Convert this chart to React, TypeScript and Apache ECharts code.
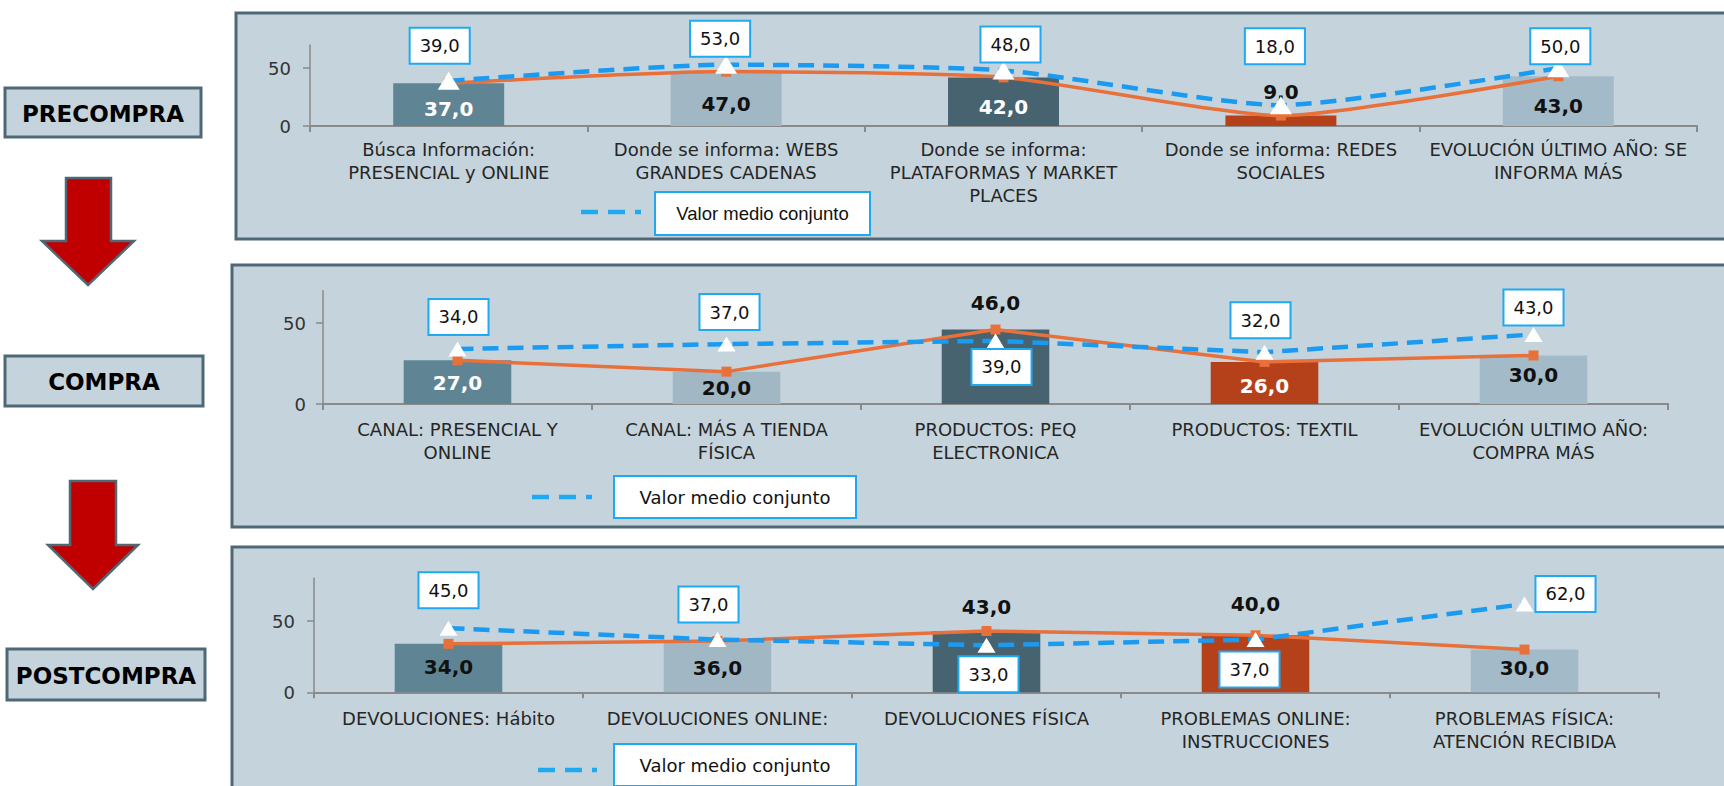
import React, { useEffect, useRef } from 'react';
import * as echarts from 'echarts';

// ---------- DATA ----------
const cats1 = [
  'Búsca Información:\nPRESENCIAL y ONLINE',
  'Donde se informa: WEBS\nGRANDES CADENAS',
  'Donde se informa:\nPLATAFORMAS Y MARKET\nPLACES',
  'Donde se informa: REDES\nSOCIALES',
  'EVOLUCIÓN ÚLTIMO AÑO: SE\nINFORMA MÁS',
];
const vals1 = [37, 47, 42, 9, 43];
const avg1 = [39, 53, 48, 18, 50];

const cats2 = [
  'CANAL: PRESENCIAL Y\nONLINE',
  'CANAL: MÁS A TIENDA\nFÍSICA',
  'PRODUCTOS: PEQ\nELECTRONICA',
  'PRODUCTOS: TEXTIL',
  'EVOLUCIÓN ULTIMO AÑO:\nCOMPRA MÁS',
];
const vals2 = [27, 20, 46, 26, 30];
const avg2 = [34, 37, 39, 32, 43];

const cats3 = [
  'DEVOLUCIONES: Hábito',
  'DEVOLUCIONES ONLINE:',
  'DEVOLUCIONES FÍSICA',
  'PROBLEMAS ONLINE:\nINSTRUCCIONES',
  'PROBLEMAS FÍSICA:\nATENCIÓN RECIBIDA',
];
const vals3 = [34, 36, 43, 40, 30];
const avg3 = [45, 37, 33, 37, 62];

const yTickValues = [0, 50];
const stageNames = ['PRECOMPRA', 'COMPRA', 'POSTCOMPRA'];
const legendName = 'Valor medio conjunto';

// ---------- STYLE ----------
const barColors = ['#5f8595', '#a1b7c3', '#47636f', '#b5411a', '#a3bac8'];
const ORANGE = '#e8703a';
const BLUE = '#1a9af0';
const BOX_BLUE = '#1eaaf1';
const PANEL_FILL = '#c5d4dc';
const PANEL_STROKE = '#4f6875';
const AXIS_GREY = '#8a8a8a';
const FONT = '"DejaVu Sans", sans-serif';

type BL = { pos: string; color: string; dy?: number; dist?: number };
const barLabels1: BL[] = [
  { pos: 'inside', color: '#fff', dy: 4 },
  { pos: 'inside', color: '#111', dy: 5 },
  { pos: 'inside', color: '#fff', dy: 5 },
  { pos: 'top', color: '#111', dist: 14 },
  { pos: 'inside', color: '#111', dy: 5 },
];
const barLabels2: BL[] = [
  { pos: 'inside', color: '#fff', dy: 1 },
  { pos: 'inside', color: '#111', dy: 0 },
  { pos: 'top', color: '#111', dist: 17 },
  { pos: 'inside', color: '#fff', dy: 3 },
  { pos: 'inside', color: '#111', dy: -5 },
];
const barLabels3: BL[] = [
  { pos: 'inside', color: '#111', dy: -1 },
  { pos: 'inside', color: '#111', dy: 1 },
  { pos: 'top', color: '#111', dist: 14 },
  { pos: 'top', color: '#111', dist: 21 },
  { pos: 'inside', color: '#111', dy: -3 },
];
const avgOffsets1 = [[-9, -35], [-6, -26], [7, -26], [-6, -59], [2, -22]];
const avgOffsets2 = [[1, -32], [3, -32], [6, 26], [-4, -32], [0, -27]];
const avgOffsets3 = [[0, -38], [-9, -35], [2, 29], [-6, 30], [41, -10]];

const fmt = (p: any) => Number(p.value).toFixed(1).replace('.', ',');

function buildChart(
  idx: number,
  cats: string[],
  vals: number[],
  avg: number[],
  max: number,
  grid: { left: number; top: number; width: number; height: number },
  barLabels: BL[],
  avgOffsets: number[][],
  labelMargin: number,
  yLabelMargin: number,
  smooth: number | boolean,
  triSize: number[]
) {
  const xAxis = {
    type: 'category',
    gridIndex: idx,
    data: cats,
    axisLine: { lineStyle: { color: AXIS_GREY, width: 2 } },
    axisTick: { show: true, length: 6, lineStyle: { color: AXIS_GREY, width: 2 } },
    axisLabel: {
      interval: 0,
      fontFamily: FONT,
      fontSize: 18,
      color: '#262626',
      lineHeight: 23,
      margin: labelMargin,
    },
  };
  const yAxis = {
    type: 'value',
    gridIndex: idx,
    min: 0,
    max,
    interval: 50,
    axisLine: { show: true, lineStyle: { color: AXIS_GREY, width: 1.5 } },
    axisTick: { show: true, length: 7, customValues: yTickValues, lineStyle: { color: AXIS_GREY, width: 1.5 } },
    axisLabel: { customValues: yTickValues, margin: yLabelMargin, fontFamily: FONT, fontSize: 18, color: '#333' },
    splitLine: { show: false },
  };
  const series = [
    {
      type: 'bar',
      name: 'bar' + idx,
      xAxisIndex: idx,
      yAxisIndex: idx,
      barWidth: '40%',
      z: 2,
      label: { show: true, fontFamily: FONT, fontWeight: 'bold', fontSize: 20, formatter: fmt },
      data: vals.map((v, i) => {
        const bl = barLabels[i];
        const label: any = { position: bl.pos, color: bl.color };
        if (bl.pos === 'top') label.distance = bl.dist;
        else label.offset = [0, bl.dy || 0];
        return { value: v, itemStyle: { color: barColors[i] }, label };
      }),
    },
    {
      type: 'line',
      name: 'line' + idx,
      xAxisIndex: idx,
      yAxisIndex: idx,
      z: 3,
      smooth,
      symbol: 'rect',
      symbolSize: 10,
      lineStyle: { color: ORANGE, width: 3.5 },
      itemStyle: { color: ORANGE },
      data: vals,
    },
    {
      type: 'line',
      name: legendName,
      xAxisIndex: idx,
      yAxisIndex: idx,
      z: 4,
      smooth,
      symbol: 'triangle',
      symbolSize: triSize,
      lineStyle: { color: BLUE, width: 4.5, type: [16, 9] },
      itemStyle: { color: '#ffffff', borderWidth: 0 },
      label: {
        show: true,
        position: 'inside',
        formatter: fmt,
        fontFamily: FONT,
        fontSize: 18,
        color: '#111',
        backgroundColor: '#ffffff',
        borderColor: BOX_BLUE,
        borderWidth: 2,
        padding: [8, 9],
        lineHeight: 18,
      },
      data: avg.map((v, i) => ({ value: v, label: { offset: avgOffsets[i] } })),
    },
  ];
  return { xAxis, yAxis, series, grid };
}

export default function App() {
  const ref = useRef<HTMLDivElement>(null);
  useEffect(() => {
    if (!ref.current) return;
    const chart = echarts.init(ref.current, undefined, { renderer: 'svg' });

    const c1 = buildChart(0, cats1, vals1, avg1, 70, { left: 310, top: 45, width: 1387, height: 81 }, barLabels1, avgOffsets1, 12, 19, 0.2, [22, 18]);
    const c2 = buildChart(1, cats2, vals2, avg2, 70, { left: 323, top: 290.7, width: 1345, height: 113.3 }, barLabels2, avgOffsets2, 14, 17, false, [18, 15]);
    const c3 = buildChart(2, cats3, vals3, avg3, 80, { left: 314, top: 578.3, width: 1345, height: 114 }, barLabels3, avgOffsets3, 15, 19, false, [18, 15]);
    const charts = [c1, c2, c3];

    const panel = (x: number, y: number, w: number, h: number) => ({
      type: 'rect',
      z: -10,
      shape: { x, y, width: w, height: h },
      style: { fill: PANEL_FILL, stroke: PANEL_STROKE, lineWidth: 3 },
    });
    const stageBox = (x: number, y: number, w: number, h: number, text: string) => [
      { type: 'rect', z: -10, shape: { x, y, width: w, height: h }, style: { fill: PANEL_FILL, stroke: PANEL_STROKE, lineWidth: 3 } },
      {
        type: 'text',
        z: 10,
        style: {
          text,
          x: x + w / 2,
          y: y + h / 2 + 1,
          textAlign: 'center',
          textVerticalAlign: 'middle',
          font: 'bold 23px "DejaVu Sans", sans-serif',
          fill: '#000',
        },
      },
    ];
    const arrow = (pts: number[][]) => ({
      type: 'polygon',
      z: -5,
      shape: { points: pts },
      style: { fill: '#c00000', stroke: PANEL_STROKE, lineWidth: 2.5 },
    });
    const legend = (lx1: number, lx2: number, ly: number, bx: number, by: number, bw: number, bh: number, font: string) => [
      { type: 'line', z: 10, shape: { x1: lx1, y1: ly, x2: lx2, y2: ly }, style: { stroke: BOX_BLUE, lineWidth: 4.5, lineDash: [17, 10] } },
      { type: 'rect', z: 10, shape: { x: bx, y: by, width: bw, height: bh }, style: { fill: '#fff', stroke: BOX_BLUE, lineWidth: 2 } },
      {
        type: 'text',
        z: 11,
        style: {
          text: legendName,
          x: bx + bw / 2,
          y: by + bh / 2,
          textAlign: 'center',
          textVerticalAlign: 'middle',
          font,
          fill: '#111',
        },
      },
    ];

    const graphic: any[] = [
      panel(236, 13, 1500, 226),
      panel(232, 265, 1504, 262),
      panel(232, 547, 1504, 250),
      ...stageBox(5, 88, 196, 49, stageNames[0]),
      ...stageBox(5, 356, 198, 50, stageNames[1]),
      ...stageBox(7, 649, 198, 51, stageNames[2]),
      arrow([[66, 178], [111, 178], [111, 241], [134, 241], [88, 285], [42, 241], [66, 241]]),
      arrow([[70, 481], [116, 481], [116, 545], [138, 545], [93, 589], [48, 545], [70, 545]]),
      ...legend(581, 641, 212, 655, 192, 215, 43, '18.5px "Liberation Sans", Arial, sans-serif'),
      ...legend(532, 592, 497, 614, 476, 242, 42, '18px "DejaVu Sans", sans-serif'),
      ...legend(538, 597, 770, 614, 744, 242, 42, '18px "DejaVu Sans", sans-serif'),
    ];

    chart.setOption({
      animation: false,
      backgroundColor: '#ffffff',
      grid: charts.map((c) => ({ ...c.grid, containLabel: false })),
      xAxis: charts.map((c) => c.xAxis),
      yAxis: charts.map((c) => c.yAxis),
      series: charts.flatMap((c) => c.series),
      graphic,
    });
    return () => chart.dispose();
  }, []);
  return <div ref={ref} style={{ position: 'absolute', left: 0, top: 0, width: 1724, height: 786 }} />;
}
